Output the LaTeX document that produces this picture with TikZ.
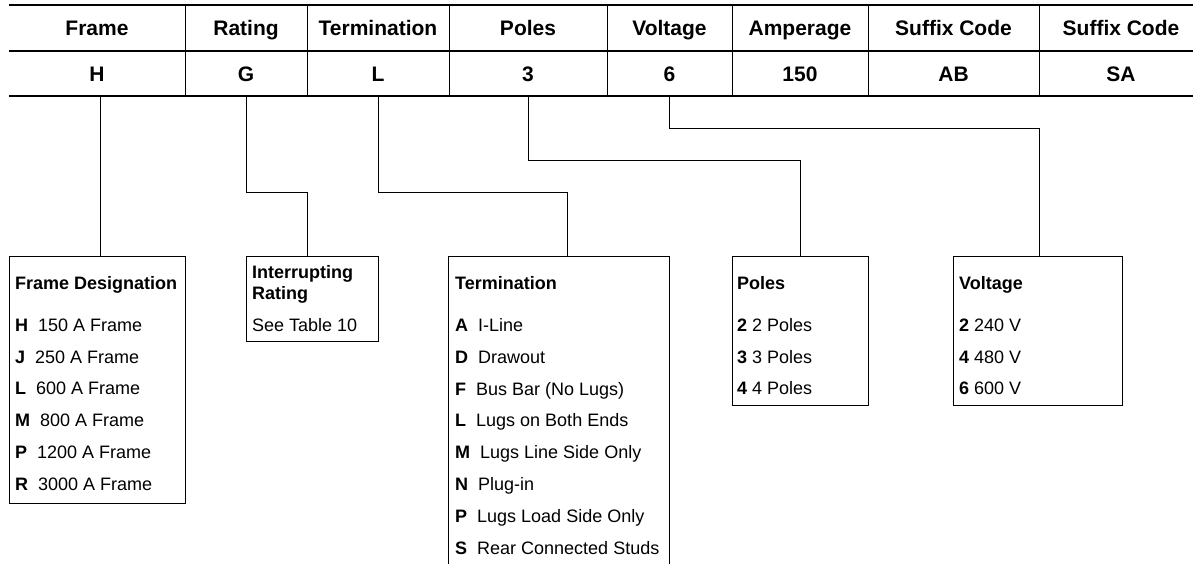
\documentclass[tikz,border=0pt]{standalone}
\usepackage{fontspec}
\setmainfont{Liberation Sans}
\begin{document}
\begin{tikzpicture}[x=1pt,y=-1pt,
  hdr/.style={font=\fontsize{21}{25}\selectfont\bfseries, inner sep=0pt, text height=15pt, text depth=0pt, anchor=center},
  val/.style={hdr, minimum height=45pt},
  box/.style={draw, line width=1pt, anchor=north west, inner sep=0pt},
  txt/.style={font=\fontsize{18}{21}\selectfont, anchor=base west, inner sep=0pt},
  ttl/.style={txt, font=\fontsize{18}{21}\selectfont\bfseries},
  conn/.style={line width=1pt}]
\useasboundingbox (0,0) rectangle (1193,563);
\clip (0,0) rectangle (1193,563);

% table rules
\draw[line width=2pt] (9,5) -- (1193,5);
\draw[line width=1.2pt] (9,51) -- (1193,51);
\draw[line width=2.2pt] (9,96) -- (1193,96);
\foreach \x in {185,307,449,607,732,868,1039} \draw[line width=1pt] (\x,5) -- (\x,96);

% header row
\node[hdr] (hFrame) at (97,28) {Frame};
\node[hdr] (hRating) at (246,28) {Rating};
\node[hdr] (hTerm) at (378,28) {Termination};
\node[hdr] (hPoles) at (528,28) {Poles};
\node[hdr] (hVolt) at (669.5,28) {Voltage};
\node[hdr] (hAmp) at (800,28) {Amperage};
\node[hdr] (hSufA) at (953.5,28) {Suffix Code};
\node[hdr] (hSufB) at (1121,28) {Suffix Code};

% value row
\node[val] (vH) at (97,73.5) {H};
\node[val] (vG) at (246,73.5) {G};
\node[val] (vL) at (378,73.5) {L};
\node[val] (v3) at (528,73.5) {3};
\node[val] (v6) at (669.5,73.5) {6};
\node[val] (v150) at (800,73.5) {150};
\node[val] (vAB) at (953.5,73.5) {AB};
\node[val] (vSA) at (1121,73.5) {SA};

% boxes
\node[box, minimum width=176pt, minimum height=247pt] (bFrame) at (9,256) {};
\node[box, minimum width=132pt, minimum height=85pt] (bRate) at (246,256) {};
\node[box, minimum width=221pt, minimum height=330pt] (bTerm) at (448,256) {};
\node[box, minimum width=136pt, minimum height=149pt] (bPoles) at (732,256) {};
\node[box, minimum width=169pt, minimum height=149pt] (bVolt) at (953,256) {};

% connector end points
\coordinate (eF) at (100,256);
\coordinate (kR) at (307,192);
\coordinate (eR) at (307,256);
\coordinate (kT) at (567,192);
\coordinate (eT) at (567,256);
\coordinate (kP) at (800,160);
\coordinate (eP) at (800,256);
\coordinate (kV) at (1039,128);
\coordinate (eV) at (1039,256);

\draw[conn] (eF |- vH.south) -- (eF);
\draw[conn] (vG.south) |- (kR) -- (eR);
\draw[conn] (vL.south) |- (kT) -- (eT);
\draw[conn] (v3.south) |- (kP) -- (eP);
\draw[conn] (v6.south) |- (kV) -- (eV);

% Frame designation box
\node[ttl] (tF) at (15,289.5) {Frame Designation};
\node[txt] (f1) at (15,331.5) {\textbf{H}~~150 A Frame};
\node[txt] (f2) at (15,363.2) {\textbf{J}~~250 A Frame};
\node[txt] (f3) at (15,394.9) {\textbf{L}~~600 A Frame};
\node[txt] (f4) at (15,426.6) {\textbf{M}~~800 A Frame};
\node[txt] (f5) at (15,458.3) {\textbf{P}~~1200 A Frame};
\node[txt] (f6) at (15,490) {\textbf{R}~~3000 A Frame};

% Interrupting rating box
\node[ttl] (tR1) at (252,278.5) {Interrupting};
\node[ttl] (tR2) at (252,299.5) {Rating};
\node[txt] (r1) at (252,331.5) {See Table 10};

% Termination box
\node[ttl] (tT) at (455,289.5) {Termination};
\node[txt] (t1) at (455,331.5) {\textbf{A}~~I-Line};
\node[txt] (t2) at (455,363.3) {\textbf{D}~~Drawout};
\node[txt] (t3) at (455,395.1) {\textbf{F}~~Bus Bar (No Lugs)};
\node[txt] (t4) at (455,426.9) {\textbf{L}~~Lugs on Both Ends};
\node[txt] (t5) at (455,458.7) {\textbf{M}~~Lugs Line Side Only};
\node[txt] (t6) at (455,490.5) {\textbf{N}~~Plug-in};
\node[txt] (t7) at (455,522.3) {\textbf{P}~~Lugs Load Side Only};
\node[txt] (t8) at (455,554.1) {\textbf{S}~~Rear Connected Studs};

% Poles box
\node[ttl] (tP) at (737,289.5) {Poles};
\node[txt] (p1) at (737,331.5) {\textbf{2} 2 Poles};
\node[txt] (p2) at (737,363.2) {\textbf{3} 3 Poles};
\node[txt] (p3) at (737,394.9) {\textbf{4} 4 Poles};

% Voltage box
\node[ttl] (tV) at (959,289.5) {Voltage};
\node[txt] (w1) at (959,331.5) {\textbf{2} 240 V};
\node[txt] (w2) at (959,363.2) {\textbf{4} 480 V};
\node[txt] (w3) at (959,394.9) {\textbf{6} 600 V};
\end{tikzpicture}
\end{document}
